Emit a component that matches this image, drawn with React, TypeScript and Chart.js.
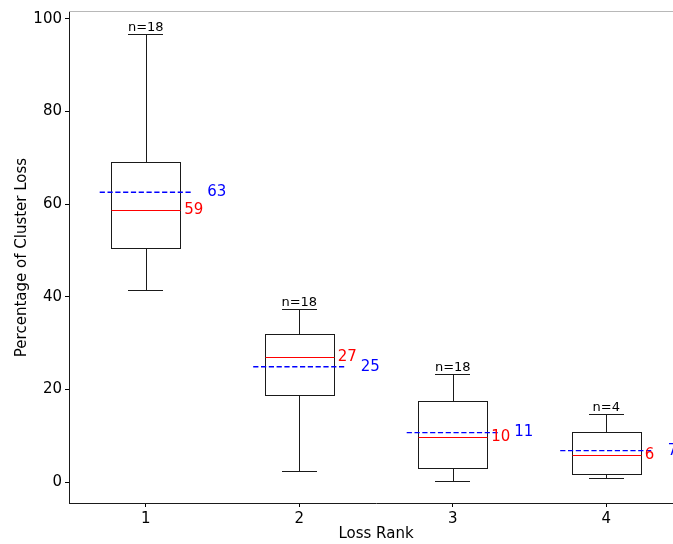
import React, { useEffect, useRef } from 'react';
import { Chart, registerables } from 'chart.js';

Chart.register(...registerables);

const categories = [1, 2, 3, 4];
const whiskerLow = [41.4, 2.5, 0.3, 0.8];
const q1 = [50.6, 18.8, 3.1, 1.7];
const medians = [58.7, 27.1, 9.8, 5.8];
const q3 = [69.2, 32.0, 17.5, 10.9];
const whiskerHigh = [96.7, 37.4, 23.3, 14.7];
const means = [62.6, 24.9, 10.7, 6.8];
const counts = [18, 18, 18, 4];
const yTicks = [0, 20, 40, 60, 80, 100];
const xTicks = [1, 2, 3, 4];

const FONT = "'DejaVu Sans', sans-serif";

const crisp = (v: number) => Math.round(v) + 0.5;

const boxPlugin = {
  id: 'boxExtras',
  afterDatasetsDraw(chart: any) {
    const { ctx, chartArea, scales } = chart;
    const x = scales.x;
    const y = scales.y;
    const meta = chart.getDatasetMeta(0);
    ctx.save();
    // top and right spines
    ctx.strokeStyle = '#b8b8b8';
    ctx.lineWidth = 1;
    ctx.beginPath();
    ctx.moveTo(chartArea.left, crisp(chartArea.top) - 1);
    ctx.lineTo(chartArea.right, crisp(chartArea.top) - 1);
    ctx.stroke();
    ctx.strokeStyle = '#000';
    ctx.beginPath();
    ctx.moveTo(crisp(chartArea.right), chartArea.top);
    ctx.lineTo(crisp(chartArea.right), chartArea.bottom);
    ctx.stroke();

    categories.forEach((c, i) => {
      const cx = x.getPixelForValue(c);
      const halfCap = x.getPixelForValue(c + 0.1125) - cx;
      const halfMean = x.getPixelForValue(c + 0.3) - cx;
      const xc = crisp(cx);
      const bar = meta.data[i];
      const bl = crisp(bar.x - bar.width / 2);
      const br = crisp(bar.x + bar.width / 2);
      const bt = crisp(Math.min(bar.y, bar.base));
      const bb = crisp(Math.max(bar.y, bar.base));
      ctx.strokeStyle = '#1a1a1a';
      ctx.lineWidth = 1;
      ctx.setLineDash([]);
      // box outline
      ctx.strokeRect(bl, bt, br - bl, bb - bt);
      // whiskers
      const yh = crisp(y.getPixelForValue(whiskerHigh[i]));
      const yl = crisp(y.getPixelForValue(whiskerLow[i]));
      ctx.beginPath();
      ctx.moveTo(xc, bt);
      ctx.lineTo(xc, yh);
      ctx.moveTo(xc, bb);
      ctx.lineTo(xc, yl);
      ctx.stroke();
      // caps
      ctx.beginPath();
      ctx.moveTo(Math.round(cx - halfCap), yh);
      ctx.lineTo(Math.round(cx + halfCap), yh);
      ctx.moveTo(Math.round(cx - halfCap), yl);
      ctx.lineTo(Math.round(cx + halfCap), yl);
      ctx.stroke();
      // median
      const ym = crisp(y.getPixelForValue(medians[i]));
      ctx.strokeStyle = '#ff0000';
      ctx.beginPath();
      ctx.moveTo(bl, ym);
      ctx.lineTo(br, ym);
      ctx.stroke();
      // mean
      const ymn = y.getPixelForValue(means[i]);
      ctx.strokeStyle = '#0000ff';
      ctx.lineWidth = 1.4;
      ctx.setLineDash([5.2, 2.6]);
      ctx.beginPath();
      ctx.moveTo(cx - halfMean, ymn);
      ctx.lineTo(cx + halfMean, ymn);
      ctx.stroke();
      ctx.setLineDash([]);
      // labels
      ctx.font = `15px ${FONT}`;
      ctx.textAlign = 'left';
      ctx.textBaseline = 'middle';
      ctx.fillStyle = '#ff0000';
      ctx.fillText(String(Math.round(medians[i])), x.getPixelForValue(c + 0.25), y.getPixelForValue(medians[i]));
      ctx.fillStyle = '#0000ff';
      ctx.fillText(String(Math.round(means[i])), x.getPixelForValue(c + 0.4), ymn);
      // n label
      ctx.font = `13px ${FONT}`;
      ctx.textAlign = 'center';
      ctx.textBaseline = 'alphabetic';
      ctx.fillStyle = '#000';
      ctx.fillText(`n=${counts[i]}`, cx, yh - 4);
    });
    ctx.restore();
  },
};

export default function App() {
  const ref = useRef<HTMLCanvasElement | null>(null);
  useEffect(() => {
    if (!ref.current) return;
    const chart = new Chart(ref.current, {
      type: 'bar',
      data: {
        datasets: [
          {
            data: categories.map((c, i) => ({ x: c, y: [q1[i], q3[i]] })) as any,
            backgroundColor: '#ffffff',
            borderWidth: 0,
            borderSkipped: false,
            categoryPercentage: 1,
            barPercentage: 0.45,
          },
        ],
      },
      plugins: [boxPlugin],
      options: {
        responsive: false,
        animation: false,
        devicePixelRatio: 1,
        layout: { padding: { top: 12, left: 0, right: 7, bottom: 0 } },
        plugins: { legend: { display: false }, tooltip: { enabled: false } },
        scales: {
          x: {
            type: 'linear',
            min: 0.5,
            max: 4.5,
            offset: false,
            afterBuildTicks: (axis: any) => {
              axis.ticks = xTicks.map((v) => ({ value: v }));
            },
            afterFit: (axis: any) => {
              axis.height = 41;
            },
            grid: { display: true, offset: false, drawOnChartArea: false, tickLength: 4, tickColor: '#000' },
            border: { display: true, color: '#1a1a1a', width: 1 },
            ticks: { color: '#000', font: { family: FONT, size: 15 }, padding: 3, callback: (v: any) => String(v) },
            title: { display: true, text: 'Loss Rank', color: '#000', font: { family: FONT, size: 15 }, padding: { top: 0, bottom: 1 } },
          },
          y: {
            type: 'linear',
            min: -4.5,
            max: 101.5,
            afterBuildTicks: (axis: any) => {
              axis.ticks = yTicks.map((v) => ({ value: v }));
            },
            afterFit: (axis: any) => {
              axis.width = 69;
            },
            grid: { display: true, drawOnChartArea: false, tickLength: 4, tickColor: '#000' },
            border: { display: true, color: '#1a1a1a', width: 1 },
            ticks: { color: '#000', font: { family: FONT, size: 15 }, padding: 3, callback: (v: any) => String(v) },
            title: { display: true, text: 'Percentage of Cluster Loss', color: '#000', font: { family: FONT, size: 15 }, padding: { top: 13, bottom: 0 } },
          },
        },
      },
    });
    return () => chart.destroy();
  }, []);
  return (
    <div style={{ position: 'fixed', left: 0, top: 0, width: 673, height: 544, overflow: 'hidden', background: '#fff' }}>
      <canvas ref={ref} width={690} height={544} style={{ width: 690, height: 544, display: 'block' }} />
    </div>
  );
}
